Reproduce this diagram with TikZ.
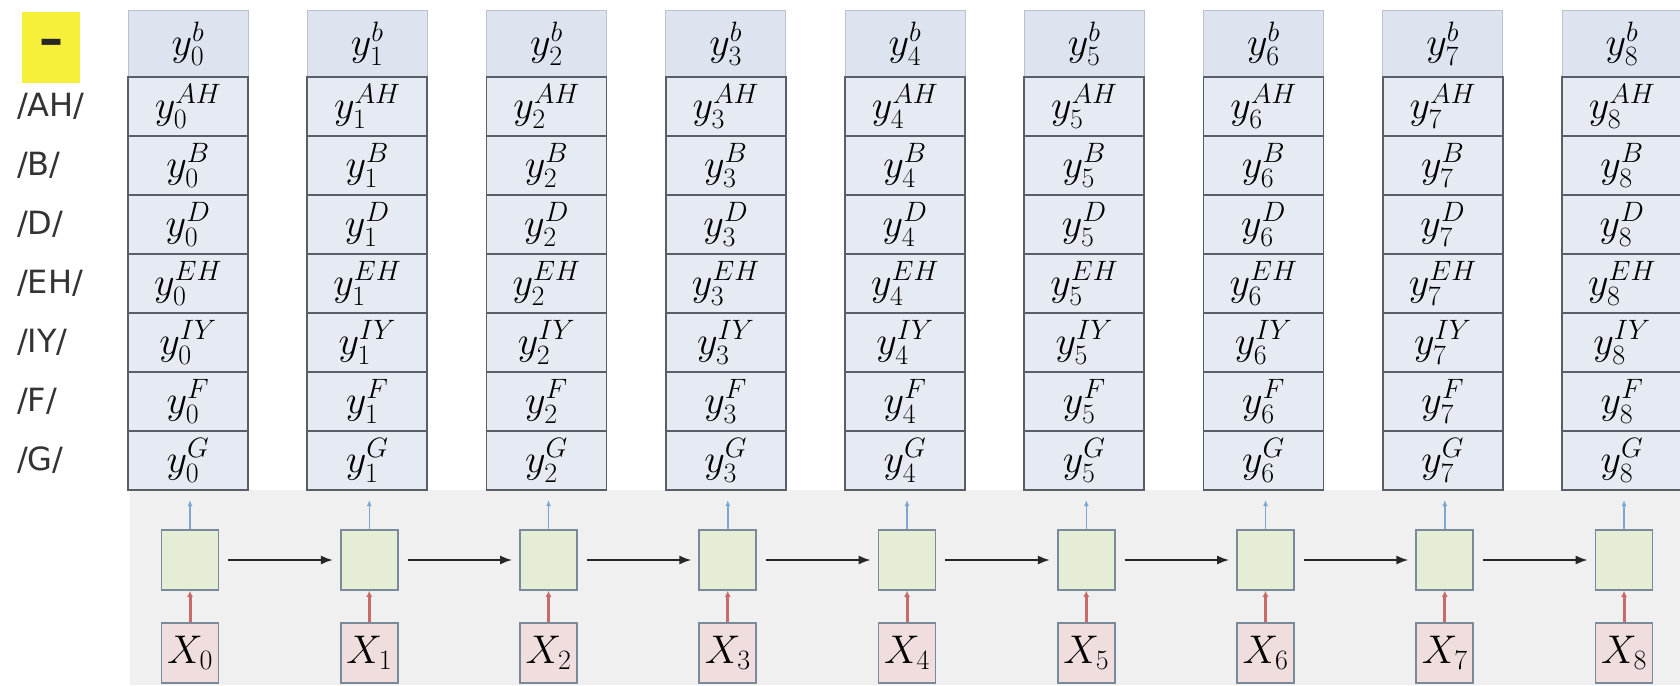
\RequirePackage{fix-cm}
\documentclass[tikz,border=0pt]{standalone}
\usepackage{fontspec}
\newfontfamily\lblfont{DejaVu Sans}
\usetikzlibrary{arrows.meta}
\definecolor{rowfill}{HTML}{E6EAF2}
\definecolor{topfill}{HTML}{DDE4EF}
\definecolor{rowline}{HTML}{5A5E66}
\definecolor{bgGray}{HTML}{F0F0F0}
\definecolor{cellfill}{HTML}{E6EDD6}
\definecolor{cellline}{HTML}{7A8A9A}
\definecolor{xfill}{HTML}{F0DDDD}
\definecolor{blueArr}{HTML}{7EA6D3}
\definecolor{redArr}{HTML}{C86A6A}
\definecolor{hiYellow}{HTML}{F6F03A}
\tikzset{
  mathfont/.style={font=\fontsize{40}{44}\selectfont},
  ybox/.style={draw=rowline, line width=1.6pt, fill=rowfill, minimum width=120pt, minimum height=59pt, inner sep=0pt, mathfont},
  topbox/.style={draw=topfill!85!black, line width=0.6pt, fill=topfill, minimum width=120pt, minimum height=67pt, inner sep=0pt, mathfont},
  cellbox/.style={draw=cellline, line width=1.6pt, fill=cellfill, minimum width=57pt, minimum height=60pt, inner sep=0pt},
  xbox/.style={draw=cellline, line width=1.6pt, fill=xfill, minimum width=57pt, minimum height=60pt, inner sep=0pt, mathfont},
  rowlabel/.style={anchor=west, inner sep=0pt, font=\lblfont\fontsize{32}{36}\selectfont, text=black!80},
  recarrow/.style={-{Latex[length=12pt,width=9pt]}, line width=2pt, black!85},
  outarrow/.style={-{Latex[length=6pt,width=5pt]}, line width=1.5pt, blueArr},
  inarrow/.style={-{Latex[length=6pt,width=6pt]}, line width=3pt, redArr},
}
\begin{document}
\begin{tikzpicture}[x=1pt,y=-1pt]
\useasboundingbox (0,0) rectangle (1680,685);
\fill[white] (0,0) rectangle (1680,685);
\fill[bgGray] (130,490) rectangle (1680,685);
% highlighted blank label
\node[fill=hiYellow, minimum width=58pt, minimum height=71pt, inner sep=0pt, font=\lblfont\bfseries\fontsize{48}{52}\selectfont, text=black!85] (blank) at (51,47.5) {–};
% row labels
\foreach \lab [count=\j] in {AH,B,D,EH,IY,F,G}{
  \node[rowlabel] (lab\j) at (17,{77+59*(\j-0.5)}) {/\lab/};
}
\foreach \i in {0,...,8}{
  \pgfmathsetmacro{\cx}{188+179.25*\i}
  \node[topbox] (b\i) at (\cx,43.5) {$y_{\i}^{b}$};
  \foreach \lab [count=\j] in {AH,B,D,EH,IY,F,G}{
    \node[ybox] (r\i-\j) at (\cx,{77+59*(\j-0.5)}) {$y_{\i}^{\lab}$};
  }
  \node[cellbox] (h\i) at (\cx+2,560) {};
  \node[xbox] (x\i) at (\cx+2,653) {$X_{\i}$};
  \coordinate (o\i) at (\cx+2,500);
  \draw[outarrow] (h\i.north) -- (o\i);
  \draw[inarrow] (x\i.north) -- (h\i.south);
}
\foreach \i [evaluate=\i as \n using int(\i+1)] in {0,...,7}{
  \draw[recarrow, shorten <=9pt, shorten >=7pt] (h\i.east) -- (h\n.west);
}
\end{tikzpicture}
\end{document}
